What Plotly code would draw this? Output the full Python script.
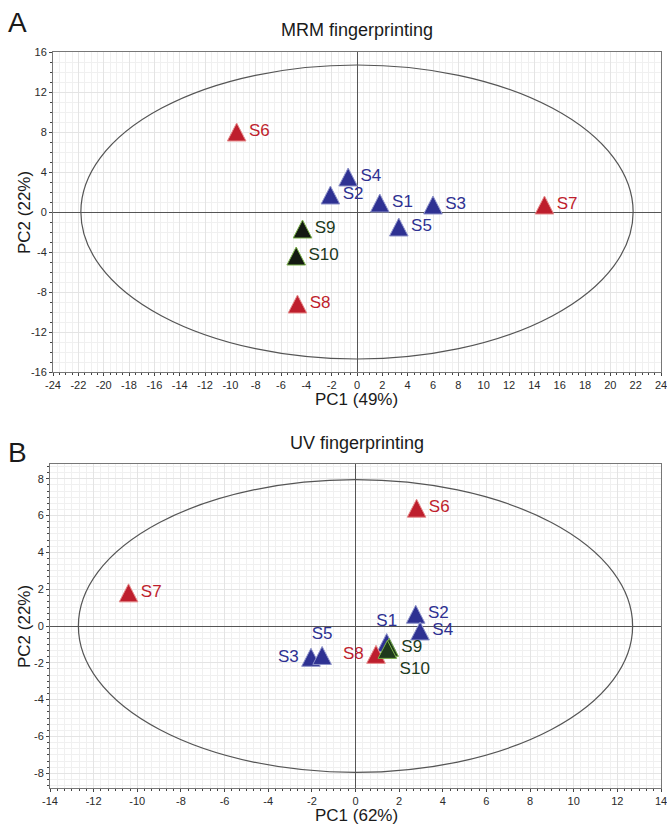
import plotly.graph_objects as go

# ---------------- data ----------------
names = ["S1", "S2", "S3", "S4", "S5", "S6", "S7", "S8", "S9", "S10"]
groups = ["blue", "blue", "blue", "blue", "blue", "red", "red", "red", "green", "green"]

mrm_pc1 = [1.8, -2.1, 6.0, -0.7, 3.3, -9.5, 14.8, -4.7, -4.3, -4.8]
mrm_pc2 = [0.9, 1.7, 0.7, 3.5, -1.5, 8.0, 0.7, -9.2, -1.7, -4.4]
mrm_textpos = ["middle right"] * 10

uv_pc1 = [1.43, 2.76, -2.04, 2.96, -1.53, 2.8, -10.4, 0.94, 1.54, 1.46]
uv_pc2 = [-0.9, 0.64, -1.7, -0.27, -1.6, 6.4, 1.8, -1.54, -1.16, -1.27]
uv_textpos = ["top center", "middle right", "middle left", "middle right", "top center",
              "middle right", "middle right", "middle left", "middle right", "bottom right"]

mrm_ellipse = (21.8, 14.7)   # semi-axes
uv_ellipse = (12.7, 7.95)

mrm_xticks = list(range(-24, 25, 2))
mrm_yticks = list(range(-16, 17, 4))
uv_xticks = list(range(-14, 15, 2))
uv_yticks = list(range(-8, 9, 2))

# ---------------- styles ----------------
fill = {"blue": "#2e3192", "red": "#be1e2d", "green": "#141a12"}
edge = {"blue": "#8d92c9", "red": "#e58a8a", "green": "#7bb24a"}
txt = {"blue": "#2e3192", "red": "#be1e2d", "green": "#1d3a1d"}
uv_fill = {"blue": "#2e3192", "red": "#be1e2d", "green": "#1f3a1c"}

tick_font = dict(family="Liberation Sans Narrow, Liberation Sans, Arial", size=11, color="#2a2a2a")
lab_font_family = "Liberation Sans, Arial"
TRI_HALF_W, TRI_HALF_H = 9.3, 9.0   # pixel size of triangle markers
TRI_PATH = f"M{-TRI_HALF_W},{-TRI_HALF_H} L{TRI_HALF_W},{-TRI_HALF_H} L0,{TRI_HALF_H} Z"

fig = go.Figure()

def add_points(xs, ys, tpos, xa, ya, fills):
    # triangles as pixel-sized shapes anchored at data coordinates
    for i in range(len(xs)):
        g = groups[i]
        fig.add_shape(type="path", xref=xa, yref=ya,
                      xsizemode="pixel", ysizemode="pixel",
                      xanchor=xs[i], yanchor=ys[i], path=TRI_PATH,
                      fillcolor=fills[g], line=dict(color=edge[g], width=1),
                      layer="between")
    for g in ["blue", "red", "green"]:
        idx = [i for i, gg in enumerate(groups) if gg == g]
        fig.add_trace(go.Scatter(
            x=[xs[i] for i in idx], y=[ys[i] for i in idx],
            text=[names[i] for i in idx],
            textposition=[tpos[i] for i in idx],
            mode="markers+text",
            marker=dict(symbol="triangle-up", size=18, color="rgba(0,0,0,0)"),
            textfont=dict(family=lab_font_family, size=17, color=txt[g]),
            xaxis=xa, yaxis=ya, showlegend=False, cliponaxis=False,
            hoverinfo="skip",
        ))

# ellipses
fig.add_shape(type="circle", xref="x", yref="y",
              x0=-mrm_ellipse[0], x1=mrm_ellipse[0], y0=-mrm_ellipse[1], y1=mrm_ellipse[1],
              line=dict(color="#555555", width=1.2), layer="between")
fig.add_shape(type="circle", xref="x2", yref="y2",
              x0=-uv_ellipse[0], x1=uv_ellipse[0], y0=-uv_ellipse[1], y1=uv_ellipse[1],
              line=dict(color="#555555", width=1.2), layer="between")

add_points(mrm_pc1, mrm_pc2, mrm_textpos, "x", "y", fill)
add_points(uv_pc1, uv_pc2, uv_textpos, "x2", "y2", uv_fill)

def axis(rng, ticks, domain, anchor, minor_dt):
    return dict(
        range=rng, domain=domain, anchor=anchor, automargin=False,
        tickvals=ticks, ticktext=[str(t) for t in ticks],
        tickfont=tick_font, ticks="outside", ticklen=3, tickcolor="#444",
        ticklabeloverflow="allow",
        showline=True, linecolor="#777777", linewidth=1, mirror=True,
        showgrid=True, gridcolor="#e4e4e4", gridwidth=1,
        zeroline=True, zerolinecolor="#555555", zerolinewidth=1,
        minor=dict(dtick=minor_dt, showgrid=True, gridcolor="#f0f0f0",
                   ticks="outside", ticklen=2, tickcolor="#444"),
        fixedrange=True,
    )

W, H = 667, 826
def px_x(p):
    return p / W
def px_y(p):
    return 1 - p / H

fig.update_layout(
    width=W, height=H,
    margin=dict(l=0, r=0, t=0, b=0, autoexpand=False),
    paper_bgcolor="white", plot_bgcolor="white",
    xaxis=axis([-24, 24], mrm_xticks, [px_x(53), px_x(661)], "y", 0.5),
    yaxis=axis([-16, 16], mrm_yticks, [px_y(372), px_y(52)], "x", 1),
    xaxis2=axis([-14, 14], uv_xticks, [px_x(50), px_x(661)], "y2", 1 / 3),
    yaxis2=axis([-8.8, 8.8], uv_yticks, [px_y(788), px_y(464)], "x2", 1 / 3),
)

ann = [
    ("A", 17, 22, 28, 0),
    ("MRM fingerprinting", 357, 30, 18, 0),
    ("PC1 (49%)", 357, 400, 17, 0),
    ("PC2 (22%)", 24, 212, 17, -90),
    ("B", 17, 453, 28, 0),
    ("UV fingerprinting", 357, 443, 18, 0),
    ("PC1 (62%)", 357, 815, 17, 0),
    ("PC2 (22%)", 24, 626, 17, -90),
]
for t, x, y, s, ang in ann:
    fig.add_annotation(text=t, x=px_x(x), y=px_y(y), xref="paper", yref="paper",
                       showarrow=False, xanchor="center", yanchor="middle",
                       textangle=ang,
                       font=dict(family=lab_font_family, size=s, color="#1a1a1a"))

fig.write_html("out.html", config={"displayModeBar": False},
               post_script="document.body.style.margin='0px';document.body.style.padding='0px';")
